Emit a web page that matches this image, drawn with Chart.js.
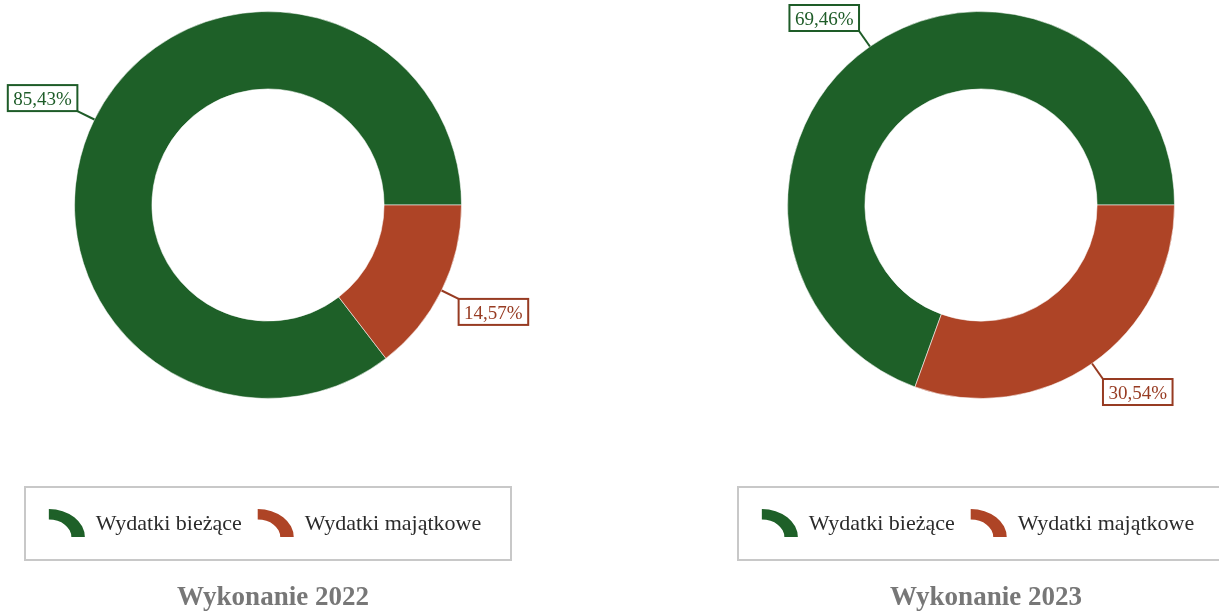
<!DOCTYPE html>
<html>
<head>
<meta charset="utf-8">
<script src="https://cdn.jsdelivr.net/npm/chart.js@4/dist/chart.umd.min.js"></script>
<style>
  html, body { margin: 0; padding: 0; background: #fff; overflow: hidden; }
  #wrap { position: relative; width: 1219px; height: 613px; overflow: hidden; }
  .panel { position: absolute; top: 0; width: 536px; height: 613px; }
</style>
</head>
<body>
<div id="wrap">
  <div class="panel" style="left:0"><canvas id="chart2022"></canvas></div>
  <div class="panel" style="left:713px"><canvas id="chart2023"></canvas></div>
</div>
<script>
const categories = ['Wydatki bieżące', 'Wydatki majątkowe'];
const titles = ['Wykonanie 2022', 'Wykonanie 2023'];
const shares2022 = [85.43, 14.57];
const shares2023 = [69.46, 30.54];

const sliceColors = ['#1e6028', '#ae4426'];
const labelColors = ['#1e5c28', '#973b22'];
const serif = '"Liberation Serif", "Times New Roman", serif';

function fmt(v) {
    return v.toFixed(2).replace('.', ',') + '%';
}

// labels in boxes with a short leader line
const boxLabels = {
    id: 'boxLabels',
    afterDatasetsDraw(chart) {
        const ctx = chart.ctx;
        const meta = chart.getDatasetMeta(0);
        const values = chart.data.datasets[0].data;
        ctx.save();
        ctx.font = '19px ' + serif;
        meta.data.forEach((arc, i) => {
            const p = arc.getProps(['x', 'y', 'startAngle', 'endAngle', 'outerRadius']);
            const mid = (p.startAngle + p.endAngle) / 2;
            const dx = Math.cos(mid), dy = Math.sin(mid);
            const text = fmt(values[i]);
            const w = ctx.measureText(text).width + 11;
            const h = 26;
            const px = p.x + dx * p.outerRadius, py = p.y + dy * p.outerRadius;
            const ex = p.x + dx * (p.outerRadius + 19), ey = p.y + dy * (p.outerRadius + 19);
            const cx = ex + Math.sign(dx) * w / 2;
            let cy = ey + Math.sign(dy) * h / 2;
            cy = Math.max(cy, h / 2 + 5);
            ctx.strokeStyle = labelColors[i];
            ctx.lineWidth = 2;
            ctx.beginPath();
            ctx.moveTo(px, py);
            ctx.lineTo(ex, ey);
            ctx.stroke();
            ctx.fillStyle = '#fff';
            ctx.fillRect(cx - w / 2, cy - h / 2, w, h);
            ctx.strokeRect(cx - w / 2, cy - h / 2, w, h);
            ctx.fillStyle = labelColors[i];
            ctx.textAlign = 'center';
            ctx.textBaseline = 'alphabetic';
            ctx.fillText(text, cx, cy + 7);
        });
        ctx.restore();
    }
};

function legendIcon(ctx, x, y, color) {
    // quarter of an elliptic ring, like a piece of the doughnut
    ctx.save();
    ctx.translate(x, y + 28);
    ctx.scale(36 / 28, 1);
    ctx.beginPath();
    ctx.arc(0, 0, 28, -Math.PI / 2, 0);
    ctx.arc(0, 0, 17.5, 0, -Math.PI / 2, true);
    ctx.closePath();
    ctx.fillStyle = color;
    ctx.fill();
    ctx.restore();
}

// legend frame, items and title under the doughnut
const bottomBlock = {
    id: 'bottomBlock',
    afterDraw(chart, args, opts) {
        const ctx = chart.ctx;
        const cx = (chart.chartArea.left + chart.chartArea.right) / 2;
        ctx.save();
        ctx.strokeStyle = '#c8c8c8';
        ctx.lineWidth = 2;
        ctx.strokeRect(cx - 243, 487, 486, 73);

        ctx.font = '22px ' + serif;
        const labels = chart.data.labels;
        const colors = chart.data.datasets[0].backgroundColor;
        const widths = labels.map(l => ctx.measureText(l).width);
        const total = widths.reduce((a, b) => a + b, 0) + labels.length * 47 + (labels.length - 1) * 16;
        let x = cx - total / 2 - 3;
        labels.forEach((l, i) => {
            legendIcon(ctx, x, 509, colors[i]);
            ctx.fillStyle = '#2b2b2b';
            ctx.textAlign = 'left';
            ctx.fillText(l, x + 47, 530);
            x += 47 + widths[i] + 16;
        });

        ctx.font = 'bold 27px ' + serif;
        ctx.fillStyle = '#777';
        ctx.textAlign = 'center';
        ctx.fillText(opts.text, cx + 5, 605);
        ctx.restore();
    }
};

function makeChart(id, shares, title) {
    new Chart(document.getElementById(id), {
        type: 'doughnut',
        data: {
            labels: categories,
            datasets: [{
                data: shares,
                backgroundColor: sliceColors,
                borderColor: 'rgba(255,255,255,0.55)',
                borderWidth: 1
            }]
        },
        options: {
            responsive: true,
            maintainAspectRatio: false,
            animation: false,
            cutout: '60%',
            rotation: 90 + shares[1] * 3.6,
            layout: { padding: { top: 11, bottom: 214, left: 0, right: 0 } },
            plugins: {
                legend: { display: false },
                tooltip: { enabled: false },
                bottomBlock: { text: title }
            }
        },
        plugins: [boxLabels, bottomBlock]
    });
}

makeChart('chart2022', shares2022, titles[0]);
makeChart('chart2023', shares2023, titles[1]);
</script>
</body>
</html>
